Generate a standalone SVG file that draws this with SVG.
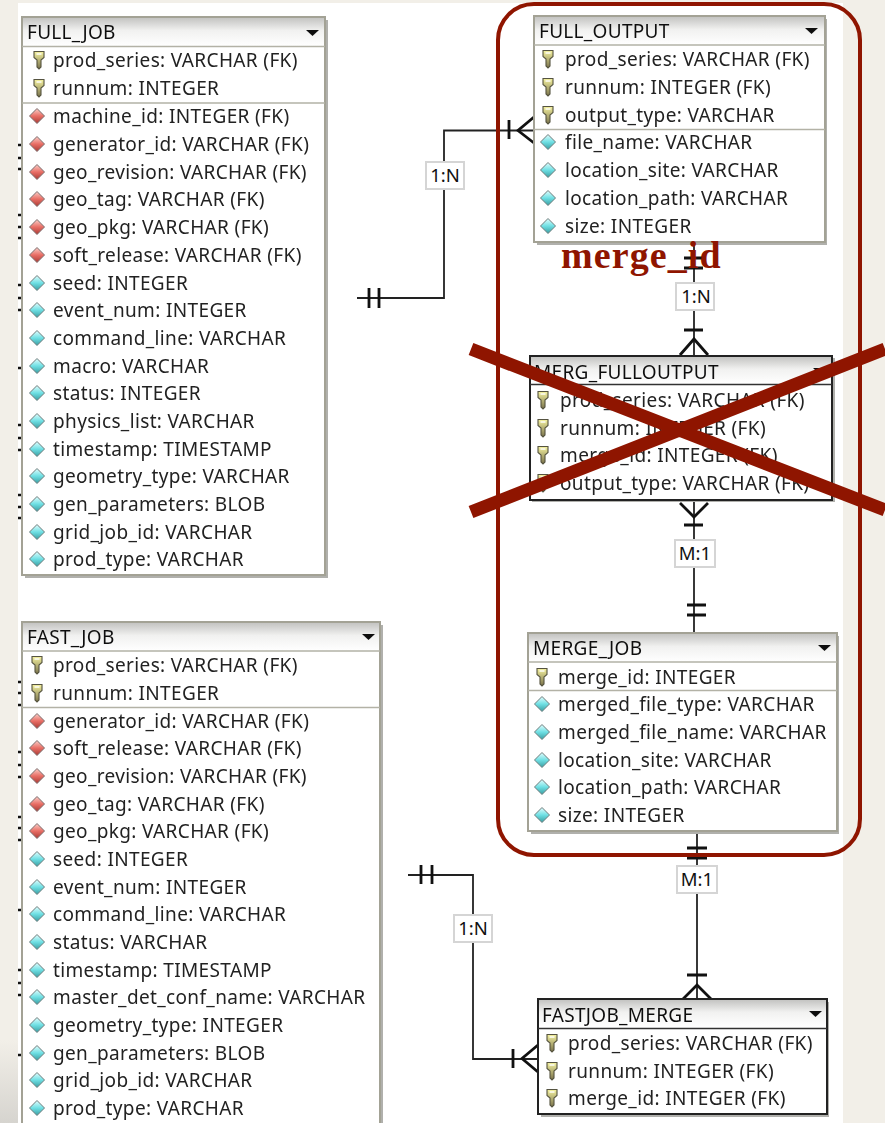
<svg xmlns="http://www.w3.org/2000/svg" width="885" height="1123" viewBox="0 0 885 1123">
<style>
.t{font-family:"Noto Sans","DejaVu Sans",sans-serif;font-size:19px;letter-spacing:.36px;fill:#222}
.h{font-family:"Noto Sans","DejaVu Sans",sans-serif;font-size:19px;letter-spacing:.3px;fill:#111}
.l{font-family:"Noto Sans","DejaVu Sans",sans-serif;font-size:18.5px;fill:#111;text-anchor:middle}
.box{fill:#fff;stroke:#a3a295;stroke-width:2}
.sel{fill:#fff;stroke:#222;stroke-width:2}
.sh{fill:#b0b0ac}
.sep{stroke:#b3b2a6;stroke-width:1.5;fill:none}
.sepk{stroke:#333;stroke-width:1.5;fill:none}
.c{stroke:#222;stroke-width:1.8;fill:none}
.m{stroke:#111;stroke-width:2.8;fill:none}
.lb{fill:#fff;stroke:#d5d5d5;stroke-width:2}
.r{stroke:#8f1500;fill:none}
.f{filter:url(#b)}
</style>
<defs>
<filter id="b" x="-2%" y="-2%" width="104%" height="104%"><feGaussianBlur stdDeviation=".4"/></filter>
<linearGradient id="hg" x1="0" y1="0" x2="0" y2="1"><stop offset="0" stop-color="#c4c4c2"/><stop offset="0.45" stop-color="#f1f1f0"/><stop offset="1" stop-color="#fff"/></linearGradient>
<linearGradient id="kg" x1="0" y1="0" x2="0" y2="1"><stop offset="0" stop-color="#f6f3a0"/><stop offset="1" stop-color="#77704a"/></linearGradient>
<linearGradient id="cg" x1="0" y1="0" x2="0" y2="1"><stop offset="0" stop-color="#e4fdfd"/><stop offset=".5" stop-color="#6fe0e4"/><stop offset="1" stop-color="#3a9ca0"/></linearGradient>
<linearGradient id="rg" x1="0" y1="0" x2="0" y2="1"><stop offset="0" stop-color="#f9cfc9"/><stop offset=".5" stop-color="#e96f66"/><stop offset="1" stop-color="#a83a34"/></linearGradient>
<linearGradient id="cor" x1="0" y1="0" x2="0" y2="1"><stop offset="0" stop-color="#f2efe8"/><stop offset="1" stop-color="#d6d4cf"/></linearGradient>
<g id="key"><path d="M-5-8.500h10v6l-3 2.500v7l-2 2-2-2v-7l-3-2.500z" fill="url(#kg)" stroke="#55533f" stroke-width="1.100"/><rect x="-2.500" y="-7" width="5" height="2" fill="#fff" opacity=".7"/></g>
<path id="dc" d="M0-7.500 7.500 0 0 7.500-7.500 0z" fill="url(#cg)" stroke="#6c7c7c" stroke-width="1"/>
<path id="dr" d="M0-7.500 7.500 0 0 7.500-7.500 0z" fill="url(#rg)" stroke="#7c6c6c" stroke-width="1"/>
<path id="tri" d="M0 0h13l-6.500 6z" fill="#111"/>
</defs>
<rect width="885" height="1123" fill="#f2efe8"/>
<rect x="0" y="1040" width="18" height="83" fill="url(#cor)"/>
<rect x="18" y="3" width="825" height="1120" fill="#fff"/>
<g id="connectors">
<path class="c" d="M357 298H444V130.500H534"/>
<path class="m" d="M369 288v20M379 288v20M509 120v19M534 117 518 130.500 534 143"/>
<path class="c" d="M694 243V355"/>
<path class="m" d="M684 258h19M684 268h19M684 330h19M680 355 694 339 708 355"/>
<path class="c" d="M694 499V633"/>
<path class="m" d="M680 503 694 517 708 503M684 525h19M687 605h19M687 615h19"/>
<path class="c" d="M697 833V999"/>
<path class="m" d="M687 848h20M687 858h20M687 975h20M683 999 697 985 711 999"/>
<path class="c" d="M408 875H473V1059H538"/>
<path class="m" d="M421 865v19M432 865v19M513 1049v19M538 1045 522 1058.500 538 1072"/>
<path stroke="#111" stroke-width="2.500" fill="none" d="M18 145h3M18 158h3M18 169h3M18 215h3M18 227h3M18 238h3M18 285h3M18 298h3M18 310h3M18 368h3M18 425h3M18 438h3M18 450h3M18 495h3M18 507h3M18 518h3M18 682h3M18 693h3M18 705h3M18 752h3M18 765h3M18 777h3M18 817h3M18 828h3M18 840h3M18 910h3M18 970h3M18 983h3M18 995h3M18 1055h3"/>
</g>
<g id="full_job" class="f">
<rect class="sh" x="25" y="20" width="303" height="558"/>
<rect class="box" x="22" y="17" width="303" height="558"/>
<rect x="23" y="18" width="301" height="28" fill="url(#hg)"/>
<path class="sep" d="M22 46.500H325M22 103H325"/>
<text class="h" x="27" y="39">FULL_JOB</text><use href="#tri" x="306" y="30"/>
<use href="#key" x="39" y="60"/><text class="t" x="53" y="67">prod_series: VARCHAR (FK)</text>
<use href="#key" x="39" y="88"/><text class="t" x="53" y="95">runnum: INTEGER</text>
<use href="#dr" x="37" y="116"/><text class="t" x="53" y="123">machine_id: INTEGER (FK)</text>
<use href="#dr" x="37" y="144"/><text class="t" x="53" y="151">generator_id: VARCHAR (FK)</text>
<use href="#dr" x="37" y="172"/><text class="t" x="53" y="179">geo_revision: VARCHAR (FK)</text>
<use href="#dr" x="37" y="199"/><text class="t" x="53" y="206">geo_tag: VARCHAR (FK)</text>
<use href="#dr" x="37" y="227"/><text class="t" x="53" y="234">geo_pkg: VARCHAR (FK)</text>
<use href="#dr" x="37" y="255"/><text class="t" x="53" y="262">soft_release: VARCHAR (FK)</text>
<use href="#dc" x="37" y="283"/><text class="t" x="53" y="290">seed: INTEGER</text>
<use href="#dc" x="37" y="310"/><text class="t" x="53" y="317">event_num: INTEGER</text>
<use href="#dc" x="37" y="338"/><text class="t" x="53" y="345">command_line: VARCHAR</text>
<use href="#dc" x="37" y="366"/><text class="t" x="53" y="373">macro: VARCHAR</text>
<use href="#dc" x="37" y="393"/><text class="t" x="53" y="400">status: INTEGER</text>
<use href="#dc" x="37" y="421"/><text class="t" x="53" y="428">physics_list: VARCHAR</text>
<use href="#dc" x="37" y="449"/><text class="t" x="53" y="456">timestamp: TIMESTAMP</text>
<use href="#dc" x="37" y="476"/><text class="t" x="53" y="483">geometry_type: VARCHAR</text>
<use href="#dc" x="37" y="504"/><text class="t" x="53" y="511">gen_parameters: BLOB</text>
<use href="#dc" x="37" y="532"/><text class="t" x="53" y="539">grid_job_id: VARCHAR</text>
<use href="#dc" x="37" y="559"/><text class="t" x="53" y="566">prod_type: VARCHAR</text>
</g>
<g id="fast_job" class="f">
<rect class="sh" x="25" y="625" width="358" height="510"/>
<rect class="box" x="22" y="622" width="358" height="510"/>
<rect x="23" y="623" width="356" height="28" fill="url(#hg)"/>
<path class="sep" d="M22 651H380M22 707.500H380"/>
<text class="h" x="27" y="644">FAST_JOB</text><use href="#tri" x="362" y="634"/>
<use href="#key" x="37" y="665"/><text class="t" x="53" y="672">prod_series: VARCHAR (FK)</text>
<use href="#key" x="37" y="693"/><text class="t" x="53" y="700">runnum: INTEGER</text>
<use href="#dr" x="37" y="721"/><text class="t" x="53" y="728">generator_id: VARCHAR (FK)</text>
<use href="#dr" x="37" y="748"/><text class="t" x="53" y="755">soft_release: VARCHAR (FK)</text>
<use href="#dr" x="37" y="776"/><text class="t" x="53" y="783">geo_revision: VARCHAR (FK)</text>
<use href="#dr" x="37" y="804"/><text class="t" x="53" y="811">geo_tag: VARCHAR (FK)</text>
<use href="#dr" x="37" y="831"/><text class="t" x="53" y="838">geo_pkg: VARCHAR (FK)</text>
<use href="#dc" x="37" y="859"/><text class="t" x="53" y="866">seed: INTEGER</text>
<use href="#dc" x="37" y="887"/><text class="t" x="53" y="894">event_num: INTEGER</text>
<use href="#dc" x="37" y="914"/><text class="t" x="53" y="921">command_line: VARCHAR</text>
<use href="#dc" x="37" y="942"/><text class="t" x="53" y="949">status: VARCHAR</text>
<use href="#dc" x="37" y="970"/><text class="t" x="53" y="977">timestamp: TIMESTAMP</text>
<use href="#dc" x="37" y="997"/><text class="t" x="53" y="1004">master_det_conf_name: VARCHAR</text>
<use href="#dc" x="37" y="1025"/><text class="t" x="53" y="1032">geometry_type: INTEGER</text>
<use href="#dc" x="37" y="1053"/><text class="t" x="53" y="1060">gen_parameters: BLOB</text>
<use href="#dc" x="37" y="1080"/><text class="t" x="53" y="1087">grid_job_id: VARCHAR</text>
<use href="#dc" x="37" y="1108"/><text class="t" x="53" y="1115">prod_type: VARCHAR</text>
</g>
<g id="full_output" class="f">
<rect class="sh" x="537" y="19" width="290" height="226"/>
<rect class="box" x="534" y="16" width="291" height="226"/>
<rect x="535" y="17" width="289" height="28" fill="url(#hg)"/>
<path class="sep" d="M534 45H825M534 129.500H825"/>
<text class="h" x="539" y="38">FULL_OUTPUT</text><use href="#tri" x="805" y="28"/>
<use href="#key" x="548" y="59"/><text class="t" x="565" y="66">prod_series: VARCHAR (FK)</text>
<use href="#key" x="548" y="87"/><text class="t" x="565" y="94">runnum: INTEGER (FK)</text>
<use href="#key" x="548" y="115"/><text class="t" x="565" y="122">output_type: VARCHAR</text>
<use href="#dc" x="548" y="142"/><text class="t" x="565" y="149">file_name: VARCHAR</text>
<use href="#dc" x="548" y="170"/><text class="t" x="565" y="177">location_site: VARCHAR</text>
<use href="#dc" x="548" y="198"/><text class="t" x="565" y="205">location_path: VARCHAR</text>
<use href="#dc" x="548" y="226"/><text class="t" x="565" y="233">size: INTEGER</text>
</g>
<g id="merg_fulloutput" class="f">
<rect class="sh" x="532" y="358" width="303" height="144"/>
<rect class="sel" x="530" y="356" width="302" height="144"/>
<rect x="531" y="357" width="300" height="27" fill="url(#hg)"/>
<path class="sepk" d="M530 384.500H832"/>
<text class="h" x="534" y="379">MERG_FULLOUTPUT</text><use href="#tri" x="813" y="368"/>
<use href="#key" x="543" y="400"/><text class="t" x="560" y="407">prod_series: VARCHAR (FK)</text>
<use href="#key" x="543" y="428"/><text class="t" x="560" y="435">runnum: INTEGER (FK)</text>
<use href="#key" x="543" y="455"/><text class="t" x="560" y="462">merge_id: INTEGER (FK)</text>
<use href="#key" x="543" y="483"/><text class="t" x="560" y="490">output_type: VARCHAR (FK)</text>
</g>
<g id="merge_job" class="f">
<rect class="sh" x="531" y="636" width="308" height="198"/>
<rect class="box" x="528" y="633" width="309" height="198"/>
<rect x="529" y="634" width="307" height="28" fill="url(#hg)"/>
<path class="sep" d="M528 662H837M528 690.500H837"/>
<text class="h" x="533" y="655">MERGE_JOB</text><use href="#tri" x="818" y="645"/>
<use href="#key" x="542" y="677"/><text class="t" x="558" y="684">merge_id: INTEGER</text>
<use href="#dc" x="542" y="704"/><text class="t" x="558" y="711">merged_file_type: VARCHAR</text>
<use href="#dc" x="542" y="732"/><text class="t" x="558" y="739">merged_file_name: VARCHAR</text>
<use href="#dc" x="542" y="760"/><text class="t" x="558" y="767">location_site: VARCHAR</text>
<use href="#dc" x="542" y="787"/><text class="t" x="558" y="794">location_path: VARCHAR</text>
<use href="#dc" x="542" y="815"/><text class="t" x="558" y="822">size: INTEGER</text>
</g>
<g id="fastjob_merge" class="f">
<rect class="sh" x="541" y="1002" width="288" height="115"/>
<rect class="sel" x="538" y="999" width="289" height="115"/>
<rect x="539" y="1000" width="287" height="27" fill="url(#hg)"/>
<path class="sepk" d="M538 1028.500H827"/>
<text class="h" x="542" y="1022">FASTJOB_MERGE</text><use href="#tri" x="809" y="1011"/>
<use href="#key" x="552" y="1043"/><text class="t" x="568" y="1050">prod_series: VARCHAR (FK)</text>
<use href="#key" x="552" y="1071"/><text class="t" x="568" y="1078">runnum: INTEGER (FK)</text>
<use href="#key" x="552" y="1098"/><text class="t" x="568" y="1105">merge_id: INTEGER (FK)</text>
</g>
<g id="labels">
<rect class="lb" x="426" y="162" width="38" height="27"/><text class="l" x="445" y="182">1:N</text>
<rect class="lb" x="676" y="283" width="38" height="27"/><text class="l" x="696" y="303">1:N</text>
<rect class="lb" x="675" y="540" width="40" height="27"/><text class="l" x="695" y="560">M:1</text>
<rect class="lb" x="677" y="866" width="40" height="27"/><text class="l" x="697" y="886">M:1</text>
<rect class="lb" x="454" y="915" width="38" height="27"/><text class="l" x="473" y="935">1:N</text>
</g>
<g id="annotation">
<rect class="r" x="498" y="4" width="362" height="851" rx="36" stroke-width="4"/>
<path class="r" stroke-width="13" d="M471 349 885 510M471 512 885 349"/>
<text x="561" y="268" font-family="Liberation Serif,serif" font-weight="700" font-size="38" letter-spacing="1.100" fill="#8f1500">merge_id</text>
</g>
</svg>
